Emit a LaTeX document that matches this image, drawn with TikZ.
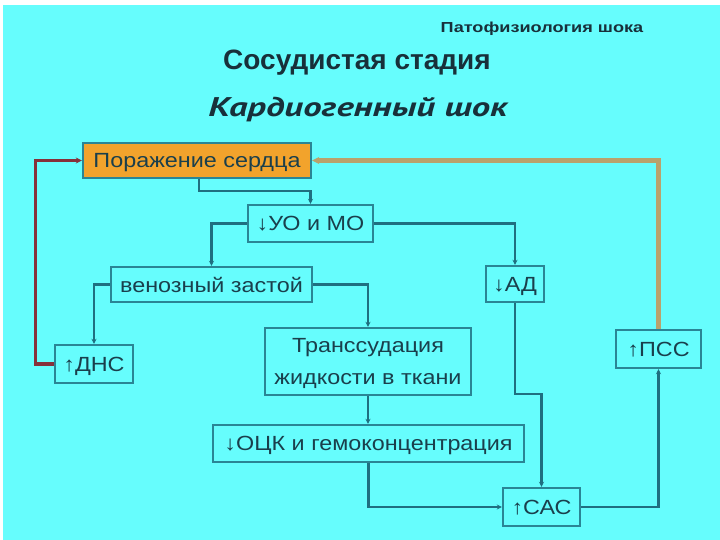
\documentclass[tikz,border=0pt]{standalone}
\usepackage{fontspec}
\setmainfont{Liberation Sans}
\newfontfamily\ptsans[FakeStretch=1.36]{PT Sans}
\newfontfamily\boxfont[FakeStretch=1.14]{Liberation Sans}
\newfontfamily\subfont[FakeStretch=1.25]{Liberation Sans}
\usetikzlibrary{arrows.meta,calc}
\definecolor{bg}{HTML}{66FDFD}
\definecolor{bx}{HTML}{2A8595}
\definecolor{ln}{HTML}{1F6F80}
\definecolor{tx}{HTML}{1A3F4C}
\definecolor{ttl}{HTML}{18303A}
\definecolor{org}{HTML}{F2A32C}
\definecolor{redl}{HTML}{86303A}
\definecolor{tanl}{HTML}{B9A26C}
\begin{document}
\begin{tikzpicture}[x=1pt,y=-1pt,
  box/.style={draw=bx,line width=2.4pt,inner sep=0pt,text=tx,text depth=0pt,
    font=\boxfont\fontsize{20.5}{32}\selectfont,align=center},
  arr/.style={draw=ln,line width=2.2pt,-{Stealth[length=5pt,width=5pt]}},
  redarr/.style={draw=redl,line width=3.2pt,-{Stealth[length=6pt,width=6pt]}},
  tanarr/.style={draw=tanl,line width=4.5pt,-{Stealth[length=7pt,width=7pt]}}]
\fill[white] (0,0) rectangle (720,540);
\fill[bg] (3,5) rectangle (720,540);
\useasboundingbox (0,0) rectangle (720,540);

\node[font=\subfont\bfseries\fontsize{14.5}{16}\selectfont,text=ttl] (sub) at (542,29) {Патофизиология шока};
\node[font=\bfseries\fontsize{28}{32}\selectfont,text=ttl] (t1) at (357,63) {Сосудистая стадия};
\node[font=\ptsans\bfseries\itshape\fontsize{27}{30}\selectfont,text=ttl] (t2) at (358,110) {Кардиогенный шок};

\node[box,fill=org,minimum width=228pt,minimum height=35pt] (por) at (197,160.5) {Поражение сердца};
\node[box,minimum width=125pt,minimum height=37pt] (uo) at (310.5,223.5) {↓УО и МО};
\node[box,minimum width=201pt,minimum height=35pt] (ven) at (211.5,284.5) {венозный застой};
\node[box,minimum width=58pt,minimum height=36pt] (ad) at (515,284) {↓АД};
\node[box,minimum width=78pt,minimum height=38pt] (dns) at (94,364) {↑ДНС};
\node[box,minimum width=206pt,minimum height=67pt] (trans) at (368,361.5) {Транссудация\\жидкости в ткани};
\node[box,minimum width=85pt,minimum height=38pt] (pss) at (658.5,349) {↑ПСС};
\node[box,minimum width=311pt,minimum height=37pt] (ock) at (368.5,443.5) {↓ОЦК и гемоконцентрация};
\node[box,minimum width=77pt,minimum height=38pt] (sas) at (541.5,507) {↑САС};

\draw[arr] ([xshift=2pt]por.south) |- ($(uo.north)+(0,-13)$) -- (uo.north);
\draw[arr] (uo.west) -| (ven.north);
\draw[arr] (uo.east) -| (ad.north);
\draw[arr] (ven.west) -| (dns.north);
\draw[arr] (ven.east) -| (trans.north);
\draw[arr] (trans.south) -- (trans.south |- ock.north);
\draw[arr] (ock.south) |- (sas.west);
\draw[arr] (ad.south) |- ($(sas.north)+(0,-93)$) -- (sas.north);
\draw[arr] (sas.east) -| (pss.south);
\draw[tanarr] (pss.north) |- (por.east);
\draw[redarr] (dns.west) -- ++(-18,0) |- (por.west);
\end{tikzpicture}
\end{document}
